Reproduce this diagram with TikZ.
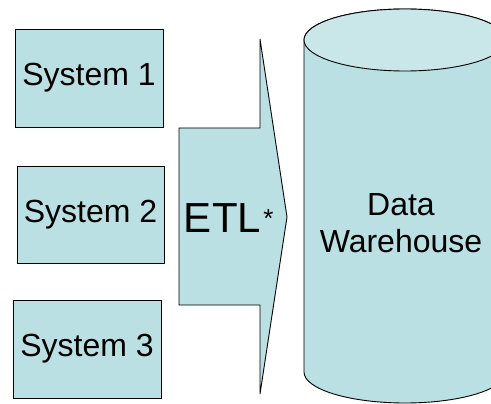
\documentclass[tikz,border=0pt]{standalone}
\usepackage{fontspec}
\setmainfont{Liberation Sans}
\definecolor{boxfill}{HTML}{BBE0E3}
\definecolor{topfill}{HTML}{C9E6E8}
\begin{document}
\begin{tikzpicture}[x=1pt,y=-1pt,
  sysbox/.style={draw=black,line width=0.9pt,fill=boxfill,inner sep=0pt,font=\fontsize{32}{38}\selectfont},
  shapeline/.style={draw=black,line width=0.9pt,fill=boxfill}]
\useasboundingbox (0,0) rectangle (491,404);
\begin{scope}
\clip (0,0) rectangle (491,404);
% system boxes
\node[sysbox,minimum width=148pt,minimum height=98pt] (s1) at (89,78) {System 1};
\node[sysbox,minimum width=147pt,minimum height=97pt] (s2) at (90.5,214.5) {System 2};
\node[sysbox,minimum width=148pt,minimum height=98pt] (s3) at (87,349) {System 3};
% ETL arrow
\path[shapeline,line join=miter] (179,128) -- (260,128) -- (260,39) -- (287,217) -- (260,394) -- (260,305) -- (179,305) -- cycle;
\node[font=\fontsize{42}{48}\selectfont,anchor=base,inner sep=0pt] (etl) at (222.5,233) {ETL};
\node[font=\fontsize{26}{30}\selectfont,inner sep=0pt] (star) at (268.5,219) {*};
% cylinder
\path[shapeline] (304,40) -- (304,372) arc[start angle=180,end angle=360,x radius=101,y radius=-31] -- (506,40) arc[start angle=0,end angle=180,x radius=101,y radius=-31] -- cycle;
\path[draw=black,line width=0.9pt,fill=topfill] (405,40) ellipse[x radius=101,y radius=31];
\node[align=center,font=\fontsize{32}{38}\selectfont,inner sep=0pt,anchor=base] (dw) at (401,253) {Data\\Warehouse};
\end{scope}
\end{tikzpicture}
\end{document}
